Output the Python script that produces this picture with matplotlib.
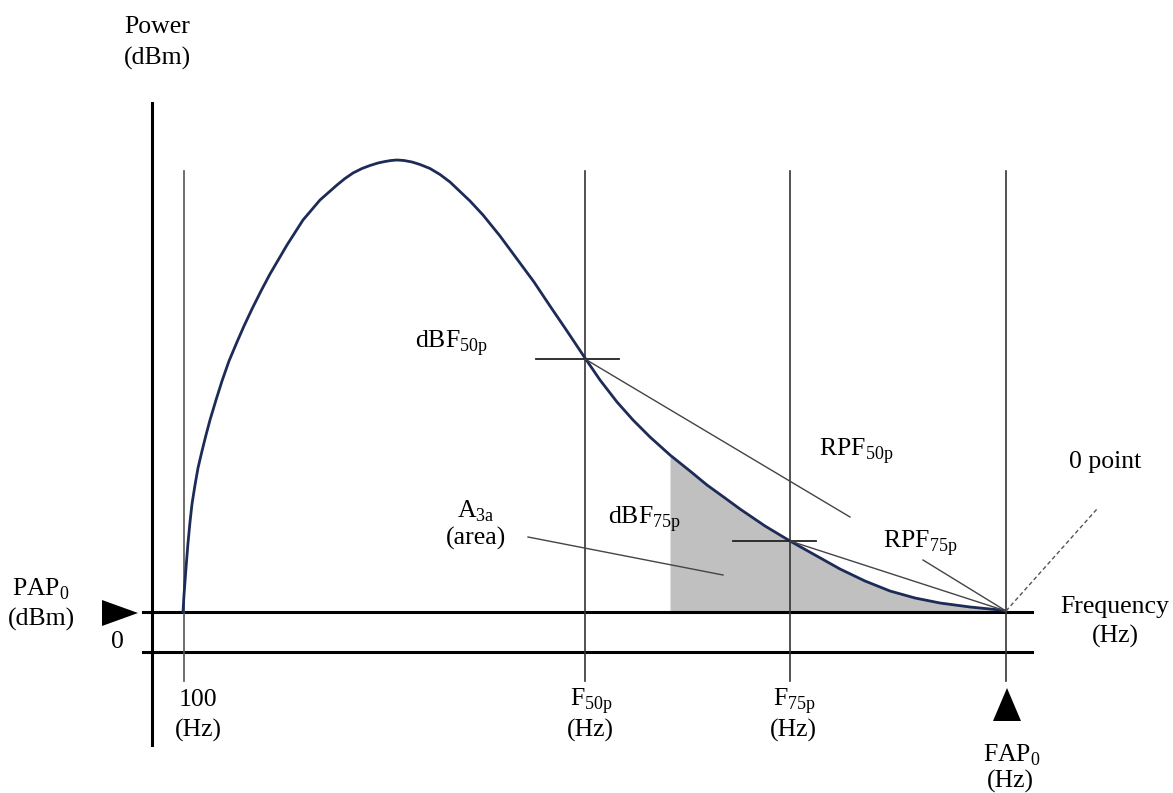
import matplotlib
matplotlib.use("Agg")
import matplotlib.pyplot as plt

plt.rcParams['font.family'] = ['Liberation Serif', 'DejaVu Serif']
plt.rcParams['mathtext.fontset'] = 'custom'
plt.rcParams['mathtext.rm'] = 'Liberation Serif'

# spectrum curve (pixel units, y grows downward)
curve_x = [183, 184, 186, 188, 190, 192, 195, 198, 202, 206, 210, 216, 222, 229, 237, 244, 252,
           261, 270, 287, 303, 320, 337, 345, 353, 362, 370, 378, 385, 391, 397, 404, 412, 420,
           430, 440, 450, 470, 483, 500, 517, 534, 550, 567, 585, 600, 617, 633, 650, 670, 690,
           707, 725, 740, 765, 790, 815, 840, 865, 890, 915, 940, 970, 1000, 1006]
curve_y = [612, 595, 568, 543, 522, 504, 485, 468, 451, 435, 420, 400, 381, 361, 342, 326, 309,
           291, 274, 245, 220, 200, 185, 178.5, 173, 168.5, 165.5, 163, 161.5, 160.5, 160, 160.5,
           162, 164.5, 168.5, 174.5, 182, 201, 215, 236, 259, 282, 306, 331, 358, 380, 402, 420,
           437, 455, 471, 485, 498, 509, 526, 541, 555, 569, 581, 591, 598, 603, 607, 610, 611]

zero_level = 612
low_level = 652
freq_marks = [184, 585, 790, 1006]
area_start = 670

dbf50 = (585, 359)
dbf75 = (790, 541)
fap0 = (1006, 611)

fig = plt.figure(figsize=(11.73, 7.93), dpi=100)
ax = fig.add_axes([0, 0, 1, 1])
ax.set_xlim(0, 1173)
ax.set_ylim(793, 0)
ax.axis('off')

# axes of the sketch
ax.plot([152, 152], [103, 745], color='black', lw=2.2)
ax.plot([143, 1032], [zero_level, zero_level], color='black', lw=2.2)
ax.plot([143, 1032], [low_level, low_level], color='black', lw=2.2)

for i, fx in enumerate(freq_marks):
    ax.plot([fx, fx], [171, 681], color='#555555' if i == 0 else '#333333', lw=1.2)

# shaded area A3a
sx = [area_start] + [x for x in curve_x if x > area_start]
sy = [455] + [y for x, y in zip(curve_x, curve_y) if x > area_start]
ax.fill_between(sx, sy, zero_level, color='#c0c0c0', lw=0)

ax.plot(curve_x, curve_y, color='#1c2b57', lw=2.0, solid_capstyle='round', solid_joinstyle='round')

# crosshair ticks
ax.plot([536, 619], [dbf50[1], dbf50[1]], color='#222222', lw=1.3)
ax.plot([733, 816], [dbf75[1], dbf75[1]], color='#222222', lw=1.3)

# RPF lines and pointers
ax.plot([dbf50[0], 850], [dbf50[1], 517], color='#444444', lw=1.0)
ax.plot([923, fap0[0]], [560, fap0[1]], color='#444444', lw=1.0)
ax.plot([dbf75[0], fap0[0]], [dbf75[1], fap0[1]], color='#444444', lw=1.0)
ax.plot([528, 723], [537, 575], color='#444444', lw=1.0)
ax.plot([fap0[0], 1097], [fap0[1], 509], color='#555555', lw=1.0, ls=(0, (3, 2)))

# markers
ax.fill([102, 138, 102], [600, 613, 626], color='black', lw=0)
ax.fill([993, 1007, 1021], [721, 688, 721], color='black', lw=0)

fs = 18.5
labels = [
    (157, 33, 'Power', 'center'),
    (157, 65, '(dBm)', 'center'),
    (41, 596, 'PAP$_\\mathregular{0}$', 'center'),
    (41, 626, '(dBm)', 'center'),
    (117, 648, '0', 'center'),
    (198, 706, '100', 'center'),
    (198, 737, '(Hz)', 'center'),
    (591, 705, 'F$_\\mathregular{50p}$', 'center'),
    (590, 737, '(Hz)', 'center'),
    (794, 705, 'F$_\\mathregular{75p}$', 'center'),
    (793, 737, '(Hz)', 'center'),
    (1012, 762, 'FAP$_\\mathregular{0}$', 'center'),
    (1010, 788, '(Hz)', 'center'),
    (1115, 613, 'Frequency', 'center'),
    (1115, 643, '(Hz)', 'center'),
    (1105, 468, '0 point', 'center'),
    (415, 348, 'dBF$_\\mathregular{50p}$', 'left'),
    (819, 456, 'RPF$_\\mathregular{50p}$', 'left'),
    (476, 518, 'A$_\\mathregular{3a}$', 'center'),
    (476, 545, '(area)', 'center'),
    (608, 523, 'dBF$_\\mathregular{75p}$', 'left'),
    (883, 548, 'RPF$_\\mathregular{75p}$', 'left'),
]
for x, y, s, ha in labels:
    ax.text(x, y, s, ha=ha, va='baseline', fontsize=fs)

fig.savefig('out.png', dpi=100)
